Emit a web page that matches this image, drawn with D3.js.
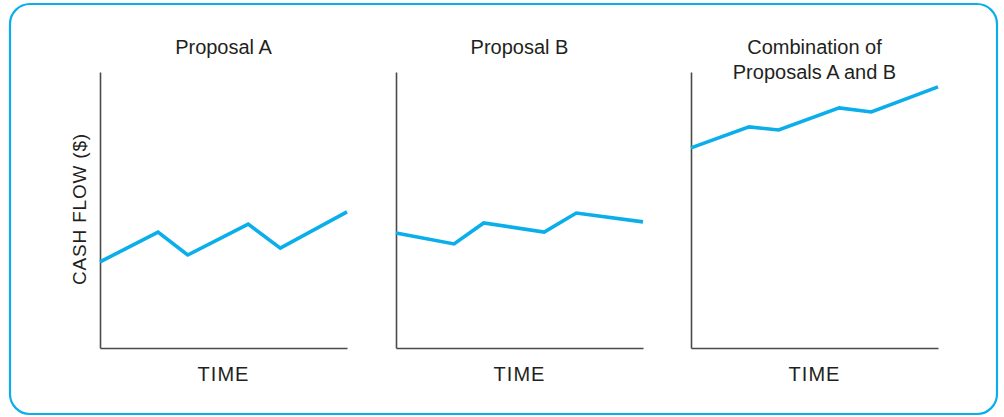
<!DOCTYPE html>
<html>
<head>
<meta charset="utf-8">
<script src="https://cdn.jsdelivr.net/npm/d3@7"></script>
<style>
  html, body { margin: 0; padding: 0; background: #fff; }
  text { font-family: "Liberation Sans", Arial, sans-serif; fill: #231f20; }
</style>
</head>
<body>
<svg id="chart" width="1004" height="417"></svg>
<script>
// Time points (shared by all three panels), 0..10
const timePoints = [0, 2.35, 3.55, 6.0, 7.3, 10];
// Cash flow values (arbitrary 0..100 scale)
const proposalA = [31.2, 42.0, 33.7, 44.9, 36.2, 49.3];
const proposalB = [41.7, 37.7, 45.3, 42.0, 48.9, 45.7];
const combined  = [72.5, 80.1, 79.0, 87.0, 85.5, 94.6];
const panelTitles = [["Proposal A"], ["Proposal B"], ["Combination of", "Proposals A and B"]];
const xLabel = "TIME";
const yLabel = "CASH FLOW ($)";

const series = [proposalA, proposalB, combined];
const panelLefts = [100, 396, 691];
const panelWidth = 247;
const plotTop = 72, plotBottom = 348;
const blue = "#0aaeea";

const svg = d3.select("#chart");

// Outer rounded frame
svg.append("rect")
  .attr("x", 10).attr("y", 4)
  .attr("width", 987).attr("height", 410)
  .attr("rx", 20).attr("ry", 20)
  .attr("fill", "none")
  .attr("stroke", blue)
  .attr("stroke-width", 2.2);

series.forEach((vals, i) => {
  const x0 = panelLefts[i];
  const x = d3.scaleLinear().domain([0, 10]).range([x0, x0 + panelWidth]);
  const y = d3.scaleLinear().domain([0, 100]).range([plotBottom, plotTop]);
  const g = svg.append("g");

  // Axes (no ticks)
  g.append("g")
    .attr("transform", `translate(0,${plotBottom})`)
    .call(d3.axisBottom(x).tickValues([]).tickSizeOuter(0))
    .select(".domain").attr("stroke", "#4a4a4a").attr("stroke-width", 1.6);
  g.append("g")
    .attr("transform", `translate(${x0},0)`)
    .call(d3.axisLeft(y).tickValues([]).tickSizeOuter(0))
    .select(".domain").attr("stroke", "#4a4a4a").attr("stroke-width", 1.6);

  // Line
  const line = d3.line()
    .x((d, j) => x(timePoints[j]))
    .y(d => y(d));
  g.append("path")
    .datum(vals)
    .attr("d", line)
    .attr("fill", "none")
    .attr("stroke", blue)
    .attr("stroke-width", 3.6)
    .attr("stroke-linejoin", "miter");

  const cx = x0 + panelWidth / 2;
  // Title
  const t = g.append("text")
    .attr("text-anchor", "middle")
    .attr("font-size", 20);
  const lines = panelTitles[i];
  lines.forEach((ln, k) => {
    t.append("tspan")
      .attr("x", cx)
      .attr("y", 54 + k * 25)
      .text(ln);
  });

  // X label
  g.append("text")
    .attr("x", cx).attr("y", 381)
    .attr("text-anchor", "middle")
    .attr("font-size", 20)
    .attr("letter-spacing", 1)
    .text(xLabel);
});

// Y label
svg.append("text")
  .attr("transform", "translate(86,209) rotate(-90)")
  .attr("text-anchor", "middle")
  .attr("font-size", 19)
  .attr("letter-spacing", 0.8)
  .text(yLabel);
</script>
</body>
</html>
